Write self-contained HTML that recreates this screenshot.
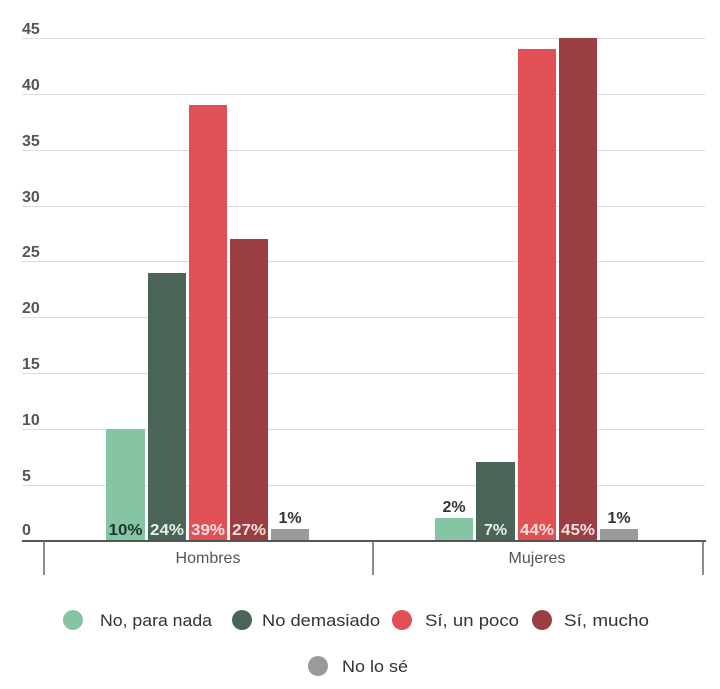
<!DOCTYPE html>
<html><head><meta charset="utf-8"><style>
html,body{margin:0;padding:0;background:#fff;}
svg{display:block;font-family:"Liberation Sans",sans-serif;}
</style></head><body>
<svg width="720" height="689" viewBox="0 0 720 689" xmlns="http://www.w3.org/2000/svg">
<g stroke="#dcdcdc" stroke-width="1">
<line x1="22" y1="38.5" x2="705" y2="38.5"/>
<line x1="22" y1="94.5" x2="705" y2="94.5"/>
<line x1="22" y1="150.5" x2="705" y2="150.5"/>
<line x1="22" y1="206.5" x2="705" y2="206.5"/>
<line x1="22" y1="261.5" x2="705" y2="261.5"/>
<line x1="22" y1="317.5" x2="705" y2="317.5"/>
<line x1="22" y1="373.5" x2="705" y2="373.5"/>
<line x1="22" y1="429.5" x2="705" y2="429.5"/>
<line x1="22" y1="485.5" x2="705" y2="485.5"/>
</g>
<g fill="#555" font-size="16" font-weight="bold">
<text x="22" y="34">45</text><text x="22" y="90">40</text><text x="22" y="146">35</text>
<text x="22" y="202">30</text><text x="22" y="257">25</text><text x="22" y="313">20</text>
<text x="22" y="369">15</text><text x="22" y="425">10</text><text x="22" y="481">5</text>
<text x="22" y="535">0</text>
</g>
<rect x="106" y="429" width="39" height="112" fill="#86c5a4"/>
<rect x="148" y="273" width="38" height="268" fill="#4a6556"/>
<rect x="189" y="105" width="38" height="436" fill="#e05055"/>
<rect x="230" y="239" width="38" height="302" fill="#9a3e42"/>
<rect x="271" y="529" width="38" height="12" fill="#9a9a9a"/>
<rect x="435" y="518" width="38" height="23" fill="#86c5a4"/>
<rect x="476" y="462" width="39" height="79" fill="#4a6556"/>
<rect x="518" y="49" width="38" height="492" fill="#e05055"/>
<rect x="559" y="38" width="38" height="503" fill="#9a3e42"/>
<rect x="600" y="529" width="38" height="12" fill="#9a9a9a"/>
<g font-size="16" font-weight="bold" text-anchor="middle">
<text x="125.5" y="535" fill="#1d3a2c" textLength="34" lengthAdjust="spacingAndGlyphs">10%</text>
<text x="167" y="535" fill="#e8f0ea" textLength="34" lengthAdjust="spacingAndGlyphs">24%</text>
<text x="208" y="535" fill="#fde0e0" textLength="34" lengthAdjust="spacingAndGlyphs">39%</text>
<text x="249" y="535" fill="#f5dede" textLength="34" lengthAdjust="spacingAndGlyphs">27%</text>
<text x="290" y="523" fill="#333">1%</text>
<text x="454" y="512" fill="#333">2%</text>
<text x="495.5" y="535" fill="#e8f0ea">7%</text>
<text x="537" y="535" fill="#fde0e0" textLength="34" lengthAdjust="spacingAndGlyphs">44%</text>
<text x="578" y="535" fill="#f5dede" textLength="34" lengthAdjust="spacingAndGlyphs">45%</text>
<text x="619" y="523" fill="#333">1%</text>
</g>
<line x1="22" y1="541" x2="706" y2="541" stroke="#555" stroke-width="2"/>
<g stroke="#666" stroke-width="1.5">
<line x1="44" y1="541" x2="44" y2="575"/>
<line x1="373" y1="541" x2="373" y2="575"/>
<line x1="703" y1="541" x2="703" y2="575"/>
</g>
<g fill="#555" font-size="16" text-anchor="middle">
<text x="208" y="563">Hombres</text>
<text x="537" y="563">Mujeres</text>
</g>
<circle cx="73" cy="620" r="10" fill="#86c5a4"/>
<circle cx="242" cy="620" r="10" fill="#4a6556"/>
<circle cx="402" cy="620" r="10" fill="#e05055"/>
<circle cx="542" cy="620" r="10" fill="#9a3e42"/>
<circle cx="318" cy="666" r="10" fill="#9a9a9a"/>
<g fill="#333" font-size="17">
<text x="100" y="626" textLength="112" lengthAdjust="spacingAndGlyphs">No, para nada</text>
<text x="262" y="626" textLength="118" lengthAdjust="spacingAndGlyphs">No demasiado</text>
<text x="425" y="626" textLength="94" lengthAdjust="spacingAndGlyphs">Sí, un poco</text>
<text x="564" y="626" textLength="85" lengthAdjust="spacingAndGlyphs">Sí, mucho</text>
<text x="342" y="672" textLength="66" lengthAdjust="spacingAndGlyphs">No lo sé</text>
</g>
</svg>
</body></html>
